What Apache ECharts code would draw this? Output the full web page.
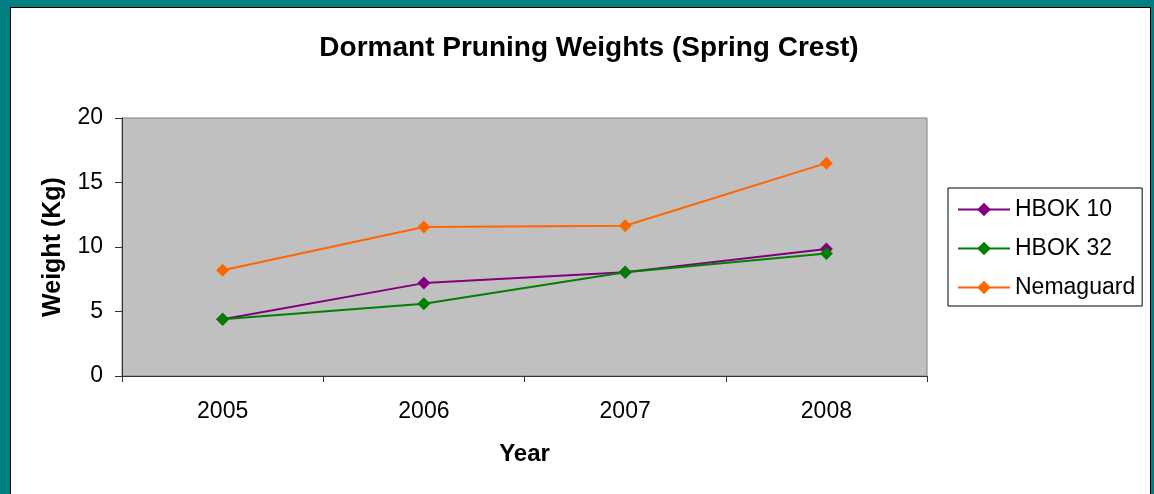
<!DOCTYPE html>
<html lang="en">

<head>
    <meta charset="UTF-8">
    <title>Dormant Pruning Weights (Spring Crest)</title>
    <style>
        html, body { margin: 0; padding: 0; overflow: hidden; background: #008080; }
        #main {
            position: absolute; left: 10px; top: 7px;
            width: 1139px; height: 492px;
            background: #fff;
            border: 1px solid #000;
        }
    </style>
</head>

<body>
    <div id="main"></div>
    <script src="https://cdn.jsdelivr.net/npm/echarts@6/dist/echarts.min.js"></script>
    <script>
        // data
        var years = ['2005', '2006', '2007', '2008'];
        var hbok10 = [4.4, 7.2, 8.05, 9.85];
        var hbok32 = [4.4, 5.6, 8.05, 9.5];
        var nemaguard = [8.2, 11.55, 11.65, 16.5];

        var font = '"Liberation Sans", Arial, sans-serif';
        var myChart = echarts.init(document.getElementById('main'));

        function makeSeries(name, data, color) {
            return {
                name: name,
                type: 'line',
                data: data,
                symbol: 'diamond',
                symbolSize: 13,
                lineStyle: { color: color, width: 2 },
                itemStyle: { color: color },
                animation: false
            };
        }

        var option = {
            title: {
                text: 'Dormant Pruning Weights (Spring Crest)',
                left: 573,
                top: 21,
                textAlign: 'center',
                textStyle: { fontFamily: font, fontSize: 28, fontWeight: 'bold', color: '#000' }
            },
            legend: {
                orient: 'vertical',
                left: 937,
                top: 180,
                padding: [10, 7, 7, 9],
                itemWidth: 52,
                itemHeight: 17,
                itemGap: 16,
                backgroundColor: '#fff',
                borderColor: '#000',
                borderWidth: 1,
                textStyle: { fontFamily: font, fontSize: 23, color: '#000' },
                data: ['HBOK 10', 'HBOK 32', 'Nemaguard']
            },
            grid: {
                left: 111,
                top: 110,
                width: 805,
                height: 258,
                show: true,
                backgroundColor: '#c0c0c0',
                borderColor: '#808080',
                borderWidth: 1
            },
            xAxis: {
                type: 'category',
                data: years,
                boundaryGap: true,
                name: 'Year',
                nameLocation: 'middle',
                nameGap: 66,
                nameTextStyle: { fontFamily: font, fontSize: 24, fontWeight: 'bold', color: '#000' },
                axisLine: { lineStyle: { color: '#333', width: 1 } },
                axisTick: { show: true, length: 6, lineStyle: { color: '#333' } },
                axisLabel: { fontFamily: font, fontSize: 23, color: '#000', margin: 24 },
                splitLine: { show: false }
            },
            yAxis: {
                type: 'value',
                min: 0,
                max: 20,
                interval: 5,
                name: 'Weight (Kg)',
                nameLocation: 'middle',
                nameRotate: 90,
                nameGap: 56,
                nameTextStyle: { fontFamily: font, fontSize: 25, fontWeight: 'bold', color: '#000' },
                axisLine: { show: true, lineStyle: { color: '#333', width: 1 } },
                axisTick: { show: true, length: 7, lineStyle: { color: '#333' } },
                axisLabel: { fontFamily: font, fontSize: 23, color: '#000', margin: 19 },
                splitLine: { show: false }
            },
            series: [
                makeSeries('HBOK 10', hbok10, '#800080'),
                makeSeries('HBOK 32', hbok32, '#008000'),
                makeSeries('Nemaguard', nemaguard, '#ff6600')
            ]
        };

        myChart.setOption(option);
    </script>
</body>

</html>
